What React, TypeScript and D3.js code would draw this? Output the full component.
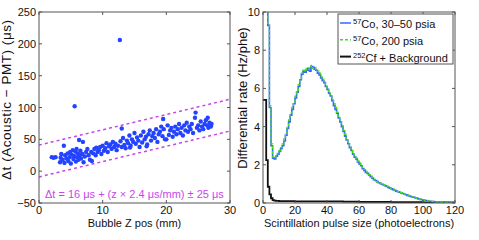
import React from "react";
import * as d3 from "d3";

// ---------- Left panel data: bubble Z position (mm) vs Δt (µs) ----------
const scatterZ = [
  2.0, 2.3, 2.6, 3.3, 3.4, 3.5, 3.7, 3.9, 4.0, 4.1, 4.3, 4.5, 4.6, 4.8, 4.9, 5.0, 5.1, 5.3, 5.4, 5.5,
  5.6, 5.7, 5.8, 5.9, 6.0, 6.1, 6.2, 6.3, 6.4, 6.5, 6.6, 6.8, 6.9, 7.0, 7.2, 7.4, 7.6, 7.8, 8.0, 8.2,
  8.3, 8.5, 8.7, 8.9, 9.0, 9.2, 9.4, 9.6, 9.8, 10.0, 10.2, 10.4, 10.6, 10.8, 11.0, 11.2, 11.4, 11.6, 11.8, 12.0,
  12.2, 12.4, 12.7, 12.8, 13.0, 13.0, 13.2, 13.4, 13.6, 13.8, 14.0, 14.2, 14.3, 14.4, 14.6, 14.8, 15.0, 15.2, 15.4, 15.6,
  15.8, 16.0, 16.2, 16.4, 16.6, 16.8, 16.9, 17.0, 17.2, 17.4, 17.6, 17.8, 18.0, 18.2, 18.4, 18.6, 18.8, 19.0, 19.2, 19.4,
  19.5, 19.6, 19.8, 20.0, 20.2, 20.4, 20.6, 20.8, 21.0, 21.2, 21.4, 21.6, 21.8, 22.0, 22.2, 22.4, 22.6, 22.8, 23.0, 23.2,
  23.4, 23.6, 23.8, 24.0, 24.2, 24.5, 24.6, 24.8, 25.0, 25.2, 25.4, 25.6, 25.8, 26.0, 26.2, 26.4, 26.5, 26.6, 26.8, 27.0,
  27.1,
];
const scatterDt = [
  22, 21, 22, 14, 21, 27, 18, 40, 13, 25, 20, 28, 16, 22, 30, 12, 26, 33, 19, 24,
  102, 31, 15, 35, 22, 28, 18, 49, 25, 32, 20, 27, 46, 14, 23, 30, 35, 25, 18, 30,
  16, 28, 35, 25, 37, 30, 33, 38, 27, 40, 32, 36, 44, 30, 39, 42, 35, 46, 38, 43,
  33, 40, 206, 47, 38, 67, 52, 41, 36, 48, 44, 56, 37, 40, 50, 46, 60, 43, 53, 48,
  38, 56, 45, 62, 50, 54, 39, 42, 58, 64, 48, 55, 60, 52, 66, 46, 58, 62, 70, 55,
  82, 66, 50, 50, 72, 57, 64, 68, 54, 62, 70, 58, 66, 74, 60, 68, 56, 72, 64, 76,
  62, 70, 66, 74, 60, 84, 92, 68, 72, 64, 78, 70, 66, 74, 80, 72, 84, 68, 76, 70,
  74,
];
const xTicksL = [0, 10, 20, 30];
const yTicksL = [-50, 0, 50, 100, 150, 200, 250];
const fitOffset = 16; // µs
const fitSlope = 2.4; // µs/mm
const fitBand = 25; // µs

// ---------- Right panel data: differential rate (Hz/phe), 1-phe bins ----------
const co57Low = [
  14, 14, 14, 9.3, 5.0, 3.0, 2.35, 2.3, 2.45, 2.55,
  2.7, 2.85, 3.0, 3.25, 3.55, 3.9, 4.25, 4.6, 4.9, 5.2,
  5.5, 5.8, 6.1, 6.45, 6.75, 6.9, 6.85, 6.95, 7.05, 6.9,
  7.15, 7.1, 7.0, 6.95, 6.8, 6.7, 6.55, 6.4, 6.3, 6.1,
  5.95, 5.75, 5.6, 5.35, 5.1, 4.9, 4.7, 4.45, 4.25, 4.0,
  3.75, 3.5, 3.3, 3.1, 2.9, 2.75, 2.55, 2.4, 2.3, 2.15,
  2.05, 1.95, 1.8, 1.7, 1.6, 1.55, 1.45, 1.38, 1.3, 1.22,
  1.18, 1.12, 1.06, 1.02, 0.98, 0.95, 0.9, 0.86, 0.82, 0.78,
  0.74, 0.7, 0.66, 0.62, 0.59, 0.56, 0.53, 0.5, 0.46, 0.43,
  0.4, 0.37, 0.34, 0.32, 0.3, 0.27, 0.24, 0.21, 0.19, 0.17,
  0.15, 0.13, 0.12, 0.1, 0.09, 0.08, 0.07, 0.06, 0.05, 0.04,
  0.03, 0.03, 0.02, 0.02, 0.02, 0.015, 0.01, 0.01, 0.01, 0.01,
];
const co57High = [
  14, 14, 14, 9.4, 5.1, 3.1, 2.4, 2.35, 2.5, 2.6,
  2.75, 2.9, 3.1, 3.35, 3.65, 4.0, 4.35, 4.7, 5.0, 5.3,
  5.6, 5.9, 6.2, 6.5, 6.8, 6.95, 6.9, 7.05, 7.0, 7.1,
  7.2, 7.05, 7.1, 7.0, 6.9, 6.8, 6.6, 6.5, 6.35, 6.2,
  6.0, 5.85, 5.65, 5.45, 5.2, 5.0, 4.75, 4.55, 4.3, 4.05,
  3.8, 3.6, 3.35, 3.15, 2.95, 2.8, 2.6, 2.45, 2.35, 2.2,
  2.1, 1.98, 1.85, 1.75, 1.65, 1.55, 1.48, 1.4, 1.32, 1.25,
  1.2, 1.1, 1.08, 1.04, 1.0, 0.96, 0.92, 0.88, 0.84, 0.79,
  0.75, 0.72, 0.68, 0.64, 0.6, 0.57, 0.54, 0.51, 0.47, 0.44,
  0.41, 0.38, 0.35, 0.33, 0.31, 0.28, 0.25, 0.22, 0.2, 0.18,
  0.16, 0.14, 0.13, 0.11, 0.1, 0.09, 0.08, 0.07, 0.06, 0.05,
  0.04, 0.03, 0.03, 0.02, 0.02, 0.02, 0.015, 0.01, 0.01, 0.01,
];
const cfEdges = [0, 2, 3, 4, 5, 6, 7, 8, 10, 20, 30, 40, 50, 60, 70, 80, 90, 100, 110, 120];
const cfBackground = [5.4, 2.25, 0.85, 0.45, 0.25, 0.15, 0.12, 0.11, 0.1, 0.09, 0.085, 0.08, 0.07, 0.06, 0.055, 0.05, 0.04, 0.035, 0.03];
const xTicksR = [0, 20, 40, 60, 80, 100, 120];
const yTicksR = [0, 2, 4, 6, 8, 10];

// ---------- styling ----------
const FONT = "'Liberation Sans', Arial, Helvetica, sans-serif";
const AXIS = "#555";
const MAGENTA = "#c846ec";
const DOT = "#2343ff";
const BLUE = "#3a66ff";
const GREEN = "#3fdc1e";

function stepPath(edges: number[], values: number[], x: d3.ScaleLinear<number, number>, y: d3.ScaleLinear<number, number>) {
  const pts: [number, number][] = values.map((v, i) => [edges[i], v]);
  pts.push([edges[values.length], values[values.length - 1]]);
  return d3
    .line<[number, number]>()
    .x((d) => x(d[0]))
    .y((d) => y(d[1]))
    .curve(d3.curveStepAfter)(pts) as string;
}

function Frame({ x, y, xTicks, yTicks }: any) {
  const [x0, x1] = x.range();
  const [y0, y1] = y.range();
  const t = 3;
  return (
    <g>
      <rect x={x0} y={y1} width={x1 - x0} height={y0 - y1} fill="none" stroke={AXIS} strokeWidth={1} />
      {xTicks.map((v: number) => (
        <g key={"x" + v}>
          <line x1={x(v)} x2={x(v)} y1={y0} y2={y0 - t} stroke={AXIS} />
          <line x1={x(v)} x2={x(v)} y1={y1} y2={y1 + t} stroke={AXIS} />
          <text x={x(v)} y={y0 + 10.5} fontSize={11} textAnchor="middle" fontFamily={FONT} fill="#111">
            {v}
          </text>
        </g>
      ))}
      {yTicks.map((v: number) => (
        <g key={"y" + v}>
          <line x1={x0} x2={x0 + t} y1={y(v)} y2={y(v)} stroke={AXIS} />
          <line x1={x1} x2={x1 - t} y1={y(v)} y2={y(v)} stroke={AXIS} />
          <text x={x0 - 3} y={y(v) + 4} fontSize={11} textAnchor="end" fontFamily={FONT} fill="#111">
            {v < 0 ? "\u2212" + Math.abs(v) : v}
          </text>
        </g>
      ))}
    </g>
  );
}

export default function App() {
  const xL = d3.scaleLinear().domain([0, 30]).range([39, 230]);
  const yL = d3.scaleLinear().domain([-50, 250]).range([203, 12]);
  const xR = d3.scaleLinear().domain([0, 120]).range([263, 455]);
  const yR = d3.scaleLinear().domain([0, 10]).range([203, 12]);

  const binEdges = d3.range(co57Low.length + 1);
  const bluePath = stepPath(binEdges, co57Low, xR, yR);
  const greenPath = stepPath(binEdges, co57High, xR, yR);
  const blackPath = stepPath(cfEdges, cfBackground, xR, yR);

  const zs = [0, 30];
  const upper = d3.line<number>().x((z) => xL(z)).y((z) => yL(fitOffset + fitSlope * z + fitBand))(zs) as string;
  const lower = d3.line<number>().x((z) => xL(z)).y((z) => yL(fitOffset + fitSlope * z - fitBand))(zs) as string;

  const legend = [
    { sup: "57", txt: "Co, 30\u201350 psia", color: BLUE, dash: "none", w: 1.5 },
    { sup: "57", txt: "Co, 200 psia", color: GREEN, dash: "3,2", w: 1.5 },
    { sup: "252", txt: "Cf + Background", color: "#111", dash: "none", w: 2 },
  ];

  return (
    <svg width={479} height={240} style={{ position: "absolute", left: 0, top: 0, background: "#fff" }}>
      <defs>
        <clipPath id="clipL">
          <rect x={39} y={12} width={191} height={191} />
        </clipPath>
        <clipPath id="clipR">
          <rect x={263} y={12} width={192} height={191} />
        </clipPath>
      </defs>
      <rect x={0} y={0} width={479} height={240} fill="#fff" />

      {/* Left panel */}
      <g clipPath="url(#clipL)">
        <path d={upper} stroke={MAGENTA} strokeWidth={1.5} strokeDasharray="3,3" fill="none" />
        <path d={lower} stroke={MAGENTA} strokeWidth={1.5} strokeDasharray="3,3" fill="none" />
        {scatterZ.map((z, i) => (
          <circle key={i} cx={xL(z)} cy={yL(scatterDt[i])} r={2.2} fill={DOT} />
        ))}
      </g>
      <Frame x={xL} y={yL} xTicks={xTicksL} yTicks={yTicksL} />
      <text x={45} y={198} fontSize={11} fontFamily={FONT} fill={MAGENTA}>
        {"\u0394t = 16 \u03bcs + (z \u00d7 2.4 \u03bcs/mm) \u00b1 25 \u03bcs"}
      </text>
      <text x={134.5} y={227} fontSize={11} textAnchor="middle" fontFamily={FONT} fill="#111">
        Bubble Z pos (mm)
      </text>
      <text
        transform={`translate(11,100) rotate(-90)`}
        fontSize={13.5}
        textAnchor="middle"
        fontFamily={FONT}
        fill="#111"
        textLength={160}
        lengthAdjust="spacing"
      >
        {"\u0394t (Acoustic \u2212 PMT) (\u03bcs)"}
      </text>

      {/* Right panel */}
      <g clipPath="url(#clipR)">
        <path d={blackPath} stroke="#111" strokeWidth={1.8} fill="none" />
        <path d={bluePath} stroke={BLUE} strokeWidth={1.6} fill="none" />
        <path d={greenPath} stroke={GREEN} strokeWidth={1.3} strokeDasharray="3,2" fill="none" />
      </g>
      <Frame x={xR} y={yR} xTicks={xTicksR} yTicks={yTicksR} />
      <text x={359} y={227} fontSize={11} textAnchor="middle" fontFamily={FONT} fill="#111">
        Scintillation pulse size (photoelectrons)
      </text>
      <text
        transform={`translate(247,98) rotate(-90)`}
        fontSize={13}
        textAnchor="middle"
        fontFamily={FONT}
        fill="#111"
      >
        Differential rate (Hz/phe)
      </text>

      {/* Legend */}
      <rect x={338} y={14} width={115} height={50} fill="#fff" stroke={AXIS} strokeWidth={1} />
      {legend.map((e, i) => {
        const cy = 23 + i * 16.8;
        return (
          <g key={i}>
            <line x1={340} x2={351} y1={cy} y2={cy} stroke={e.color} strokeWidth={e.w} strokeDasharray={e.dash} />
            <text x={353} y={cy + 5} fontSize={11} fontFamily={FONT} fill="#111">
              <tspan fontSize={7.5} dy={-4}>
                {e.sup}
              </tspan>
              <tspan dy={4}>{e.txt}</tspan>
            </text>
          </g>
        );
      })}
    </svg>
  );
}
